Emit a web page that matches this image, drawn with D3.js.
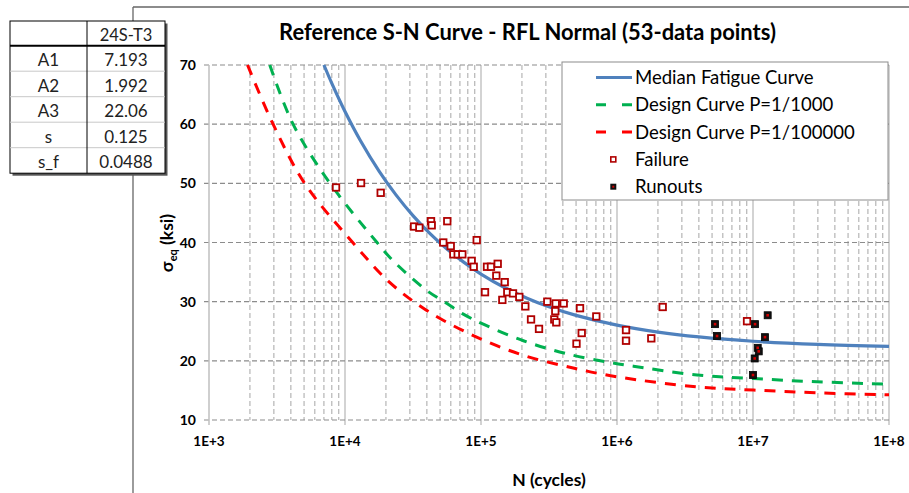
<!DOCTYPE html>
<html><head><meta charset="utf-8">
<script src="https://cdn.jsdelivr.net/npm/d3@7"></script>
<style>body{margin:0;background:#fff;} svg{display:block;font-family:Lato,"Open Sans",sans-serif;}</style>
</head><body><svg id="c" width="909" height="493"></svg>
<script>
// ---- data ----
const titleText = "Reference S-N Curve - RFL Normal (53-data points)";
const tableHeader = "24S-T3";
const tableLabels = ["A1","A2","A3","s","s_f"];
const tableValues = ["7.193","1.992","22.06","0.125","0.0488"];
const yTicks = [10,20,30,40,50,60,70];
const xTicks = [1e3,1e4,1e5,1e6,1e7,1e8];
const xTickLabels = ["1E+3","1E+4","1E+5","1E+6","1E+7","1E+8"];
const legendLabels = ["Median Fatigue Curve","Design Curve P=1/1000","Design Curve P=1/100000","Failure","Runouts"];

const medianN = [7000,8000,10000,13000,17800,23700,31600,42200,56200,75000,1e5,1.5e5,2.2e5,3.16e5,5e5,1e6,2e6,4e6,1e7,3e7,1e8];
const medianS = [70.0,66.9,62.14,57.2,52.07,48.05,44.55,41.5,38.9,36.64,34.67,32.35,30.55,29.14,27.68,26.03,24.86,24.04,23.31,22.78,22.45];
const greenN = [2800,4150,7760,17200,22600,39900,54300,74100,104000,205000,427000,914000,1320000,3880000,10100000,29500000,100000000];
const greenS = [70,60,50,40,36.9,31.9,29.9,27.9,26.2,23.4,21.2,19.67,19.1,17.6,17.0,16.46,16.05];
const redN = [1920,2960,5050,11400,21200,39400,86300,201000,494000,1000000,3880000,10100000,29500000,100000000];
const redS = [70,60,50,40,33.3,28.6,24.35,21.0,18.7,17.3,15.6,15.06,14.6,14.25];

const failN = [8590,13120,18300,32200,35200,42900,43400,56500,52800,59900,62600,67400,72900,93000,85400,88400,110700,118400,132700,129600,107000,149400,156100,143500,171900,191300,211800,233300,267000,307300,354200,405600,351800,345900,357800,534600,550200,503700,704400,1165000,1165000,1787000,2168000,9040000];
const failS = [49.3,50.05,48.4,42.7,42.5,43.6,42.9,43.6,40.0,39.4,38.0,38.0,38.0,40.4,36.9,35.9,35.9,35.9,36.4,34.4,31.6,33.3,31.6,30.3,31.4,30.8,29.2,27.0,25.4,30.0,29.7,29.7,28.4,27.0,26.5,28.9,24.7,22.9,27.5,25.2,23.4,23.8,29.1,26.7];
const runN = [5260000,5440000,10350000,12820000,12250000,10830000,11020000,10290000,10000000];
const runS = [26.2,24.2,26.2,27.7,24.0,22.2,21.6,20.4,17.6];

// ---- drawing ----
const svg = d3.select("#c");
const x = d3.scaleLog().domain([1e3,1e8]).range([209,889]);
const y = d3.scaleLinear().domain([10,70]).range([420,65]);
const BLUE="#4F81BD", GREEN="#00B050", RED="#FF0000", DRED="#B00000";

function fit(sel, w){ const cur = sel.node().getComputedTextLength(); const fs = parseFloat(sel.attr("font-size")); sel.attr("font-size", fs*w/cur); return fs*w/cur; }

// chart frame
svg.append("line").attr("x1",133).attr("x2",133).attr("y1",7).attr("y2",493).attr("stroke","#666").attr("stroke-width",1.3);
svg.append("line").attr("x1",133).attr("x2",909).attr("y1",7).attr("y2",7).attr("stroke","#666").attr("stroke-width",1.3);

// title
const t = svg.append("text").attr("x",527.5).attr("y",39.5).attr("text-anchor","middle")
  .attr("font-weight","bold").attr("font-size",18).attr("fill","#000").text(titleText);
fit(t,497);

// grid
const g = svg.append("g");
const minors = [];
for (let d=1e3; d<1e8; d*=10) for (let k=2;k<=9;k++) minors.push(d*k);
g.selectAll(".mn").data(minors).join("line")
  .attr("x1",d=>x(d)).attr("x2",d=>x(d)).attr("y1",y(70)).attr("y2",y(10))
  .attr("stroke","#a6a6a6").attr("stroke-width",1).attr("stroke-dasharray","5,3");
g.selectAll(".mj").data(xTicks.slice(1)).join("line")
  .attr("x1",d=>x(d)).attr("x2",d=>x(d)).attr("y1",y(70)).attr("y2",y(10)+5)
  .attr("stroke","#c4c4c4").attr("stroke-width",1.5);
g.selectAll(".hy").data(yTicks).join("line")
  .attr("x1",204).attr("x2",x(1e8)).attr("y1",d=>y(d)).attr("y2",d=>y(d))
  .attr("stroke","#8c8c8c").attr("stroke-width",1.2).attr("stroke-dasharray","5,3");
g.append("line").attr("x1",x(1e3)).attr("x2",x(1e3)).attr("y1",y(70)).attr("y2",y(10)+5)
  .attr("stroke","#bfbfbf").attr("stroke-width",1.5);

// tick labels
svg.selectAll(".yl").data(yTicks).join("text").attr("x",196).attr("y",d=>y(d)+5)
  .attr("text-anchor","end").attr("font-weight","bold").attr("font-size",14).attr("fill","#000").text(d=>d);
svg.selectAll(".xl").data(xTicks).join("text").attr("x",d=>x(d)).attr("y",446)
  .attr("text-anchor","middle").attr("font-weight","bold").attr("font-size",13.5).attr("fill","#000")
  .text((d,i)=>xTickLabels[i]);

// axis titles
svg.append("text").attr("x",549).attr("y",486).attr("text-anchor","middle").attr("font-weight","bold")
  .attr("font-size",17.5).attr("fill","#000").text("N (cycles)");
const yt = svg.append("text").attr("transform","translate(173,243) rotate(-90)").attr("text-anchor","middle")
  .attr("font-weight","bold").attr("font-size",17.5).attr("fill","#000");
yt.append("tspan").text("σ");
yt.append("tspan").attr("font-size",11).attr("dy",4).text("eq");
yt.append("tspan").attr("dy",-4).text(" (ksi)");

// curves
const line = d3.line().x(d=>x(d[0])).y(d=>y(d[1])).curve(d3.curveCatmullRom.alpha(0.5));
const zip = (a,b)=>a.map((v,i)=>[v,b[i]]);
svg.append("path").attr("d",line(zip(redN,redS))).attr("fill","none").attr("stroke",RED).attr("stroke-width",3).attr("stroke-dasharray","11,9");
svg.append("path").attr("d",line(zip(greenN,greenS))).attr("fill","none").attr("stroke",GREEN).attr("stroke-width",3).attr("stroke-dasharray","11,9");
svg.append("path").attr("d",line(zip(medianN,medianS))).attr("fill","none").attr("stroke",BLUE).attr("stroke-width",3.2);

// points
const fs = 6.5;
svg.selectAll(".f").data(zip(failN,failS)).join("rect")
  .attr("x",d=>x(d[0])-fs/2).attr("y",d=>y(d[1])-fs/2).attr("width",fs).attr("height",fs)
  .attr("fill","#fff").attr("stroke",DRED).attr("stroke-width",1.8);
const rs = 7;
svg.selectAll(".r").data(zip(runN,runS)).join("rect")
  .attr("x",d=>x(d[0])-rs/2).attr("y",d=>y(d[1])-rs/2).attr("width",rs).attr("height",rs)
  .attr("fill","#111").attr("stroke","#000").attr("stroke-width",0.8);
svg.selectAll(".rc").data(zip(runN,runS)).join("rect")
  .attr("x",d=>x(d[0])-1.3).attr("y",d=>y(d[1])-1.3).attr("width",2.6).attr("height",2.6)
  .attr("fill","#d00000");

// legend
const lg = svg.append("g");
lg.append("rect").attr("x",562).attr("y",62).attr("width",326).attr("height",138)
  .attr("fill","#fff").attr("stroke","#8c8c8c").attr("stroke-width",1);
const ly = i => 77.5 + i*27.3;
lg.append("line").attr("x1",596).attr("x2",632).attr("y1",ly(0)).attr("y2",ly(0)).attr("stroke",BLUE).attr("stroke-width",3);
lg.append("line").attr("x1",596).attr("x2",632).attr("y1",ly(1)).attr("y2",ly(1)).attr("stroke",GREEN).attr("stroke-width",3).attr("stroke-dasharray","10,16");
lg.append("line").attr("x1",596).attr("x2",632).attr("y1",ly(2)).attr("y2",ly(2)).attr("stroke",RED).attr("stroke-width",3).attr("stroke-dasharray","10,16");
lg.append("rect").attr("x",613.3-2.5).attr("y",ly(3)-2.5).attr("width",5).attr("height",5).attr("fill","#fff").attr("stroke",DRED).attr("stroke-width",1.6);
lg.append("rect").attr("x",613.3-3).attr("y",ly(4)-3).attr("width",6).attr("height",6).attr("fill","#111");
lg.append("rect").attr("x",613.3-1).attr("y",ly(4)-1).attr("width",2).attr("height",2).attr("fill","#d00000");
const lt = lg.selectAll(".lt").data(legendLabels).join("text").attr("x",635).attr("y",(d,i)=>ly(i)+6.5)
  .attr("font-size",16).attr("fill","#000").text(d=>d);
const probe = d3.select(lt.nodes()[2]);
const lfs = fit(probe,220);
lt.attr("font-size",lfs);

// table
const tb = svg.append("g");
const tx0=10, tx1=87, tx2=165, ty0=21, tyH=45.7, rowH=25.5;
const ty1 = tyH + rowH*tableLabels.length;
tb.append("rect").attr("x",tx0+2.5).attr("y",ty0+2.5).attr("width",tx2-tx0).attr("height",ty1-ty0).attr("fill","#555");
tb.append("rect").attr("x",tx0).attr("y",ty0).attr("width",tx2-tx0).attr("height",ty1-ty0).attr("fill","#fff").attr("stroke","#000").attr("stroke-width",1);
tb.selectAll(".rl").data(tableLabels.slice(1)).join("line")
  .attr("x1",tx0).attr("x2",tx2).attr("y1",(d,i)=>tyH+rowH*(i+1)).attr("y2",(d,i)=>tyH+rowH*(i+1))
  .attr("stroke","#c8c8c8").attr("stroke-width",1);
tb.append("line").attr("x1",tx0).attr("x2",tx2).attr("y1",tyH).attr("y2",tyH).attr("stroke","#000").attr("stroke-width",2);
tb.append("line").attr("x1",tx1).attr("x2",tx1).attr("y1",ty0).attr("y2",ty1).attr("stroke","#000").attr("stroke-width",1);
tb.append("text").attr("x",(tx1+tx2)/2).attr("y",tyH-5).attr("text-anchor","middle").attr("font-size",16.5).attr("fill","#222").text(tableHeader);
tb.selectAll(".tl").data(tableLabels).join("text").attr("x",(tx0+tx1)/2).attr("y",(d,i)=>tyH+rowH*(i+1)-5)
  .attr("text-anchor","middle").attr("font-size",17).attr("fill","#222").text(d=>d);
tb.selectAll(".tv").data(tableValues).join("text").attr("x",(tx1+tx2)/2).attr("y",(d,i)=>tyH+rowH*(i+1)-5)
  .attr("text-anchor","middle").attr("font-size",17).attr("fill","#222").text(d=>d);
</script></body></html>
